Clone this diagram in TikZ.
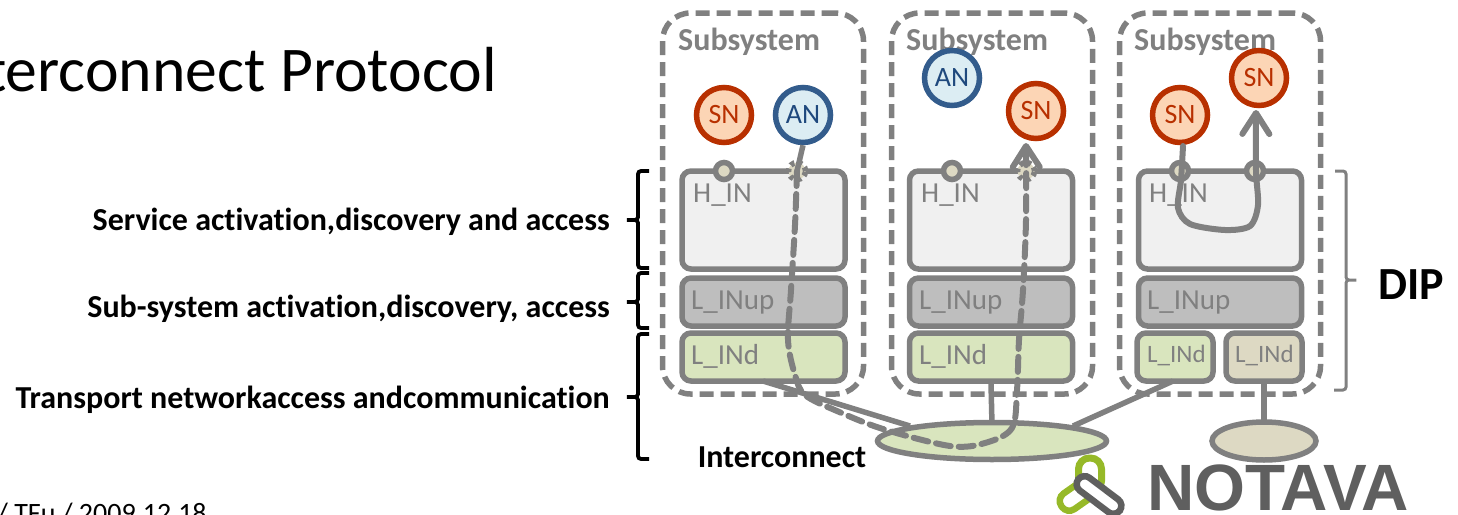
\documentclass[tikz,border=0pt]{standalone}
\usepackage{fontspec}
\setmainfont[RawFeature={-liga}]{Carlito}
\newfontfamily\logofont{Liberation Sans}
\usetikzlibrary{shapes.geometric,arrows.meta}
\definecolor{linegray}{HTML}{808080}
\definecolor{snred}{HTML}{B83000}
\definecolor{snfill}{HTML}{FCD5B5}
\definecolor{anblue}{HTML}{335C8C}
\definecolor{anfill}{HTML}{DCEDF3}
\definecolor{antext}{HTML}{1F497D}
\definecolor{hinfill}{HTML}{F0F0F0}
\definecolor{lupfill}{HTML}{BEBEBE}
\definecolor{lindfill}{HTML}{D9E5BE}
\definecolor{beige}{HTML}{DDD9C3}
\definecolor{logogreen}{HTML}{96B928}
\definecolor{logogray}{HTML}{5F5F5F}
\begin{document}
\begin{tikzpicture}[x=1pt,y=-1pt,inner sep=0pt,
  fs/.style={font=\fontsize{#1}{#1}\selectfont},
  fsb/.style={font=\fontsize{#1}{#1}\selectfont\bfseries},
  subsys/.style={rectangle,draw=linegray,line width=5.5pt,dash pattern=on 14pt off 7pt,rounded corners=28pt,minimum width=201pt,minimum height=381pt},
  subtitle/.style={fsb=32,text=linegray,anchor=base west},
  layer/.style={rectangle,draw=linegray,line width=5.5pt,rounded corners=9pt,minimum width=163pt},
  layertext/.style={fs=29,text=linegray,anchor=west},
  sn/.style={circle,draw=snred,fill=snfill,line width=5.5pt,minimum size=55pt,text=snred,fs=28},
  an/.style={circle,draw=anblue,fill=anfill,line width=5.5pt,minimum size=55pt,text=antext,fs=28},
  port/.style={circle,draw=linegray,fill=beige,line width=5.5pt,minimum size=17pt},
  link/.style={draw=linegray,line width=5.5pt},
  route/.style={draw=linegray,line width=6pt,line cap=round,-{Straight Barb[length=21pt,width=27pt,line width=6pt,round]}},
  lefttext/.style={fsb=32,anchor=east},
  brk/.style={draw=black,line width=3.8pt,rounded corners=3pt}]

  \path[use as bounding box,clip] (0,0) rectangle (1458,514);

  % left side
  \node[fs=63.7,anchor=base east] (title) at (497,91) {Interconnect Protocol};
  \node[fs=28,anchor=base west] (date) at (-3,522) {/ TFu / 2009.12.18};
  \node[lefttext] (t1) at (610,222) {Service activation,discovery and access};
  \node[lefttext] (t2) at (610,309) {Sub-system activation,discovery, access};
  \node[lefttext] (t3) at (610,400) {Transport networkaccess andcommunication};
  \draw[brk] (649,171) -- (638,171) -- (638,220) -- (625,220) -- (638,220) -- (638,268) -- (649,268);
  \draw[brk] (649,273) -- (638,273) -- (638,302) -- (625,302) -- (638,302) -- (638,328) -- (649,328);
  \draw[brk] (649,334) -- (638,334) -- (638,397) -- (625,397) -- (638,397) -- (638,459) -- (649,459);

  % subsystems
  \node[subsys] (sub1) at (763,203.5) {};
  \node[subsys] (sub2) [right of = sub1,node distance=229pt] {};
  \node[subsys] (sub3) [right of = sub2,node distance=228pt] {};
  \node[subtitle] (st1) at (678,50) {Subsystem};
  \node[subtitle] (st2) at (906,50) {Subsystem};
  \node[subtitle] (st3) at (1134,50) {Subsystem};

  % layers
  \node[layer,fill=hinfill,minimum height=98pt] (hin1) at (763.5,220) {};
  \node[layer,fill=lupfill,minimum height=48pt] (lup1) [below of = hin1,node distance=82pt] {};
  \node[layer,fill=lindfill,minimum height=48pt] (lind1) [below of = lup1,node distance=55pt] {};
  \node[layer,fill=hinfill,minimum height=98pt] (hin2) [right of = hin1,node distance=227.5pt] {};
  \node[layer,fill=lupfill,minimum height=48pt] (lup2) [below of = hin2,node distance=82pt] {};
  \node[layer,fill=lindfill,minimum height=48pt] (lind2) [below of = lup2,node distance=55pt] {};
  \node[layer,fill=hinfill,minimum height=98pt] (hin3) [right of = hin2,node distance=229pt] {};
  \node[layer,fill=lupfill,minimum height=48pt] (lup3) [below of = hin3,node distance=82pt] {};
  \node[layer,fill=lindfill,minimum width=76pt,minimum height=48pt] (lind3) at (1175,357) {};
  \node[layer,fill=beige,minimum width=76pt,minimum height=48pt] (lind4) [right of = lind3,node distance=89pt] {};

  \node[layertext] (hint1) at (693,195) {H\_IN};
  \node[layertext] (hint2) at (921,195) {H\_IN};
  \node[layertext] (hint3) at (1149,195) {H\_IN};
  \node[layertext] (lupt1) at (691,303) {L\_INup};
  \node[layertext] (lupt2) at (919,303) {L\_INup};
  \node[layertext] (lupt3) at (1147,303) {L\_INup};
  \node[layertext] (lindt1) at (691,356) {L\_INd};
  \node[layertext] (lindt2) at (919,356) {L\_INd};
  \node[layertext,fs=25] (lindt3) at (1147,355) {L\_INd};
  \node[layertext,fs=25] (lindt4) at (1235,355) {L\_INd};

  % interconnects
  \coordinate (e1) at (910,426);
  \coordinate (e3) at (1073,426);
  \draw[link] (763,381) to (e1);
  \draw[link] (lind2.south) to (992,425);
  \draw[link] (1173,381) to (e3);
  \draw[link] (lind4.south) to (1264,425);
  \node[ellipse,draw=linegray,fill=lindfill,line width=5.5pt,minimum width=229pt,minimum height=37pt] (net1) at (992,441) {};
  \node[ellipse,draw=linegray,fill=beige,line width=5.5pt,minimum width=104pt,minimum height=38pt] (net2) at (1264,441) {};
  \node[fsb=32] (ict) at (782,457) {Interconnect};

  % ports and service nodes
  \node[port] (p1) at (724,171) {};
  \node[port,dash pattern=on 4pt off 4pt] (p2) at (797,171) {};
  \node[port] (p3) at (952,171) {};
  \node[port,dash pattern=on 4pt off 4pt] (p4) at (1026,171) {};
  \node[port] (p5) at (1180,171) {};
  \node[port] (p6) at (1255,171) {};
  \node[sn] (sn1) at (724,115) {SN};
  \node[an] (an1) at (803,115) {AN};
  \node[an] (an2) at (952,78) {AN};
  \node[sn] (sn2) at (1036,111) {SN};
  \node[sn] (sn3) at (1180,115) {SN};
  \node[sn] (sn4) at (1259,78) {SN};

  % routes
  \draw[link] (an1.south) to (p2.center);
  \draw[route,dash pattern=on 15pt off 8pt] plot[smooth,tension=0.55] coordinates {(p2.center) (795,225) (791,290) (788,340) (795,375) (805,395) (837,411) (883,429) (950,446) (985,443) (1012,428) (1017,390) (1019,340) (1023,290) (1026,220) (1026,143)};
  \draw[route] plot[smooth,tension=0.5] coordinates {(1183,146) (1181,180) (1178,208) (1190,224) (1225,230) (1250,226) (1258,205) (1256,171) (1256,110)};

  % right bracket and logo
  \draw[draw=linegray,line width=3pt,rounded corners=3pt] (1335,171) -- (1346,171) -- (1346,280) -- (1358,280) -- (1346,280) -- (1346,390) -- (1334,390);
  \node[fsb=46] (dip) at (1411,285) {DIP};
  \node[rectangle,rounded corners=11pt,draw=logogreen,line width=7pt,minimum width=23pt,minimum height=34pt] (lk1) at (1090,475) {};
  \node[rectangle,rounded corners=9pt,draw=logogreen,line width=6.5pt,minimum width=19pt,minimum height=40pt,rotate=-55] (lk2) at (1078,495) {};
  \node[rectangle,rounded corners=8pt,draw=logogray,fill=white,line width=6.5pt,minimum width=16pt,minimum height=52pt,rotate=53] (lk3) at (1099,495) {};
  \node[anchor=base west,text=logogray] (logo) at (1147,510) {\fontsize{65.5}{66}\selectfont\logofont\bfseries NOTAVA};
\end{tikzpicture}
\end{document}
